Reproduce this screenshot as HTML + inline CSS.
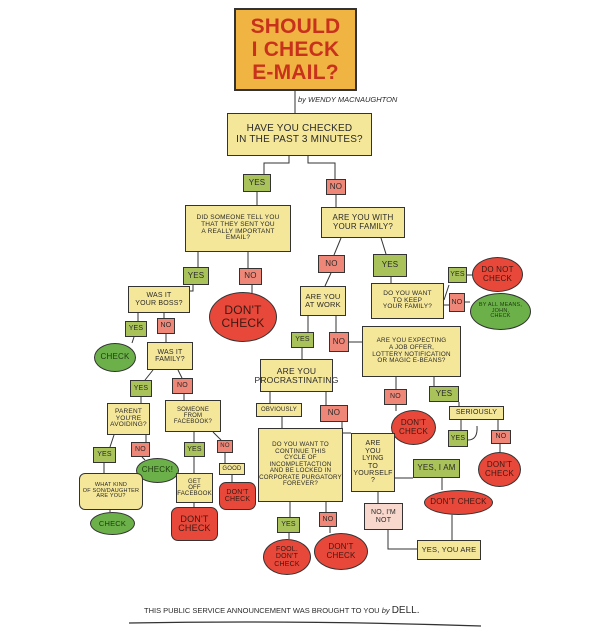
<!DOCTYPE html>
<html><head><meta charset="utf-8"><style>
html,body{margin:0;padding:0;background:#fff;}
body{width:607px;height:640px;position:relative;overflow:hidden;font-family:"Liberation Sans",sans-serif;color:#2a2a2a;}
.b{position:absolute;box-sizing:border-box;border:1.3px solid #333;display:flex;align-items:center;justify-content:center;text-align:center;line-height:1.05;text-transform:uppercase;letter-spacing:0.2px;}
.q{background:#f5e79a;font-size:6.5px;}
.y{background:#a9c25a;font-size:8px;}
.n{background:#ee8778;font-size:8px;}
.rc{background:#e8483a;border-radius:50%;font-size:8px;color:#3a1a14;}
.gc{background:#6cb04a;border-radius:50%;font-size:7px;color:#1e3a10;}
.rr{background:#e8483a;border-radius:7px;font-size:8px;color:#3a1a14;}
svg{position:absolute;left:0;top:0;}
</style></head><body>
<svg width="607" height="640" fill="none" stroke="#333" stroke-width="1">
<path d="M295 91V113"/>
<path d="M289 156V163H264V175"/><path d="M308 156V163H335V180"/>
<path d="M257 192V205"/><path d="M336 195V207"/>
<path d="M198 252V267"/><path d="M248 252V268"/><path d="M252 285V293"/>
<path d="M341 238L334 255"/><path d="M381 238L386 254"/>
<path d="M193 285V291H190"/><path d="M331 273L325 286"/><path d="M391 277V283"/>
<path d="M444 300L449 285"/><path d="M444 305H449"/><path d="M467 275H472"/><path d="M465 302H470"/>
<path d="M138 313V321"/><path d="M164 313V318"/><path d="M134 337L132 343"/><path d="M166 334V342"/>
<path d="M308 316V332"/><path d="M336 316V332"/><path d="M349 342H362"/>
<path d="M302 348V359"/><path d="M270 392V403"/><path d="M326 392V405"/>
<path d="M153 370L145 380"/><path d="M178 370L182 378"/><path d="M141 397V403"/><path d="M184 394V400"/>
<path d="M396 377V389"/><path d="M434 377V386"/><path d="M396 405V411"/><path d="M459 402V406"/>
<path d="M282 417V428"/><path d="M342 422V433H351"/>
<path d="M114 435L110 447"/><path d="M146 435V442"/><path d="M104 463V473"/><path d="M142 457L145 460"/>
<path d="M194 432V442"/><path d="M213 432L221 440"/><path d="M194 457V473"/><path d="M225 453V463"/><path d="M232 475V482"/><path d="M194 503V507"/>
<path d="M461 420V430"/><path d="M498 420V430"/><path d="M500 444V452"/><path d="M468 440Q478 440 477 426"/>
<path d="M395 478H413"/><path d="M442 478V490"/><path d="M378 492V503"/><path d="M388 530V549H417"/><path d="M452 540V515"/>
<path d="M290 502V517"/><path d="M326 502V512"/><path d="M289 533V539"/><path d="M330 527V533"/>
<path d="M110 510V512"/>
<path d="M129 623Q300 620 481 626" stroke-width="1.2"/>
</svg>
<div class="b" style="left:234px;top:8px;width:123px;height:83px;background:#f0b442;border-width:2px;color:#c8321c;font-size:21px;font-weight:bold;line-height:1.1;">SHOULD<br>I CHECK<br>E-MAIL?</div>
<div style="position:absolute;left:298px;top:95px;font-size:7.5px;font-style:italic;">by WENDY MACNAUGHTON</div>
<div class="b q" style="left:227px;top:113px;width:145px;height:43px;font-size:10px;">HAVE YOU CHECKED<br>in THE PAST 3 MINUTES?</div>
<div class="b y" style="left:243px;top:174px;width:28px;height:18px;">YES</div>
<div class="b n" style="left:326px;top:179px;width:20px;height:16px;">NO</div>
<div class="b q" style="left:185px;top:205px;width:106px;height:47px;">DID SOMEONE TELL YOU<br>THAT THEY SENT YOU<br>A REALLY IMPORTANT<br>EMAIL?</div>
<div class="b q" style="left:321px;top:207px;width:84px;height:31px;font-size:8px;">ARE YOU WITH<br>YOUR FAMILY?</div>
<div class="b y" style="left:183px;top:267px;width:26px;height:18px;">YES</div>
<div class="b n" style="left:239px;top:268px;width:23px;height:17px;">NO</div>
<div class="b n" style="left:318px;top:255px;width:27px;height:18px;">NO</div>
<div class="b y" style="left:373px;top:254px;width:34px;height:23px;">YES</div>
<div class="b q" style="left:128px;top:286px;width:62px;height:27px;font-size:7px;">WAS IT<br>YOUR BOSS?</div>
<div class="rc b" style="left:209px;top:292px;width:68px;height:50px;font-size:12px;">DON'T<br>CHECK</div>
<div class="b q" style="left:300px;top:286px;width:46px;height:30px;font-size:7.5px;">ARE YOU<br>AT WORK</div>
<div class="b q" style="left:371px;top:283px;width:73px;height:36px;font-size:6.5px;">DO YOU WANT<br>TO KEEP<br>YOUR FAMILY?</div>
<div class="b y" style="left:448px;top:267px;width:19px;height:16px;font-size:7px;">YES</div>
<div class="rc b" style="left:472px;top:257px;width:51px;height:35px;">DO NOT<br>CHECK</div>
<div class="b n" style="left:449px;top:293px;width:16px;height:19px;font-size:7px;">NO</div>
<div class="gc b" style="left:470px;top:293px;width:61px;height:37px;font-size:5.5px;">BY ALL MEANS,<br>JOHN,<br>CHECK</div>
<div class="b y" style="left:125px;top:321px;width:22px;height:16px;font-size:7px;">YES</div>
<div class="b n" style="left:157px;top:318px;width:18px;height:16px;font-size:7px;">NO</div>
<div class="gc b" style="left:94px;top:343px;width:42px;height:29px;font-size:8px;">CHECK</div>
<div class="b q" style="left:147px;top:342px;width:46px;height:28px;font-size:7px;">WAS IT<br>FAMILY?</div>
<div class="b y" style="left:291px;top:332px;width:23px;height:16px;font-size:7px;">YES</div>
<div class="b n" style="left:329px;top:332px;width:20px;height:20px;">NO</div>
<div class="b q" style="left:362px;top:326px;width:99px;height:51px;font-size:6.3px;">ARE YOU EXPECTING<br>A JOB OFFER,<br>LOTTERY NOTIFICATION<br>OR MAGIC E-BEANS?</div>
<div class="b q" style="left:260px;top:359px;width:73px;height:33px;font-size:8.5px;">ARE YOU<br>PROCRASTINATING</div>
<div class="b y" style="left:130px;top:380px;width:22px;height:17px;font-size:7px;">YES</div>
<div class="b n" style="left:172px;top:378px;width:21px;height:16px;font-size:7px;">NO</div>
<div class="b n" style="left:384px;top:389px;width:23px;height:16px;font-size:7px;">NO</div>
<div class="b y" style="left:429px;top:386px;width:30px;height:16px;">YES</div>
<div class="b q" style="left:256px;top:403px;width:46px;height:14px;font-size:6px;">OBVIOUSLY</div>
<div class="b n" style="left:320px;top:405px;width:28px;height:17px;">NO</div>
<div class="rc b" style="left:391px;top:410px;width:45px;height:35px;">DON'T<br>CHECK</div>
<div class="b q" style="left:449px;top:406px;width:55px;height:14px;font-size:7px;">SERIOUSLY</div>
<div class="b q" style="left:107px;top:403px;width:43px;height:32px;font-size:6.5px;">PARENT<br>YOU'RE<br>AVOIDING?</div>
<div class="b q" style="left:165px;top:400px;width:56px;height:32px;font-size:6px;">SOMEONE<br>FROM<br>FACEBOOK?</div>
<div class="b q" style="left:258px;top:428px;width:85px;height:74px;font-size:6.2px;">DO YOU WANT TO<br>CONTINUE THIS<br>CYCLE OF<br>INCOMPLETACTION<br>AND BE LOCKED IN<br>CORPORATE PURGATORY<br>FOREVER?</div>
<div class="b q" style="left:351px;top:433px;width:44px;height:59px;font-size:7px;">ARE<br>YOU<br>LYING<br>TO YOURSELF<br>?</div>
<div class="b y" style="left:448px;top:430px;width:20px;height:17px;font-size:7px;">YES</div>
<div class="b n" style="left:491px;top:430px;width:20px;height:14px;font-size:7px;">NO</div>
<div class="rc b" style="left:478px;top:452px;width:43px;height:35px;">DON'T<br>CHECK</div>
<div class="b y" style="left:93px;top:447px;width:23px;height:16px;font-size:7px;">YES</div>
<div class="b n" style="left:131px;top:442px;width:19px;height:15px;font-size:7px;">NO</div>
<div class="gc b" style="left:136px;top:458px;width:43px;height:25px;font-size:8px;">CHECK!</div>
<div class="b y" style="left:184px;top:442px;width:21px;height:15px;font-size:7px;">YES</div>
<div class="b n" style="left:217px;top:440px;width:16px;height:13px;font-size:6px;">NO</div>
<div class="b q" style="left:219px;top:463px;width:26px;height:12px;font-size:6px;">GOOD</div>
<div class="rr b" style="left:219px;top:482px;width:37px;height:28px;font-size:7px;">DON'T<br>CHECK</div>
<div class="b q" style="left:176px;top:473px;width:37px;height:30px;font-size:6px;">GET<br>OFF<br>FACEBOOK</div>
<div class="rr b" style="left:171px;top:507px;width:47px;height:34px;font-size:9px;">DON'T<br>CHECK</div>
<div class="b q" style="left:79px;top:473px;width:64px;height:37px;font-size:5.5px;border-radius:6px;">WHAT KIND<br>OF SON/DAUGHTER<br>ARE YOU?</div>
<div class="gc b" style="left:90px;top:512px;width:45px;height:23px;font-size:7.5px;">CHECK</div>
<div class="b y" style="left:413px;top:459px;width:47px;height:19px;">YES, I AM</div>
<div class="rc b" style="left:424px;top:490px;width:69px;height:25px;font-size:8px;">DON'T CHECK</div>
<div class="b q" style="left:364px;top:503px;width:39px;height:27px;font-size:7px;background:#f8d8cc;">NO, I'M<br>NOT</div>
<div class="b q" style="left:417px;top:540px;width:64px;height:20px;font-size:7.5px;">YES, YOU ARE</div>
<div class="b y" style="left:277px;top:517px;width:23px;height:16px;font-size:7px;">YES</div>
<div class="b n" style="left:319px;top:512px;width:18px;height:15px;font-size:7px;">NO</div>
<div class="rc b" style="left:263px;top:539px;width:48px;height:36px;font-size:7px;">FOOL.<br>DON'T<br>CHECK</div>
<div class="rc b" style="left:314px;top:533px;width:54px;height:37px;">DON'T<br>CHECK</div>
<div style="position:absolute;left:144px;top:605px;width:320px;font-size:7.5px;white-space:nowrap;">THIS PUBLIC SERVICE ANNOUNCEMENT WAS BROUGHT TO YOU <i>by</i> <span style="font-size:10px">DELL.</span></div>
</body></html>
